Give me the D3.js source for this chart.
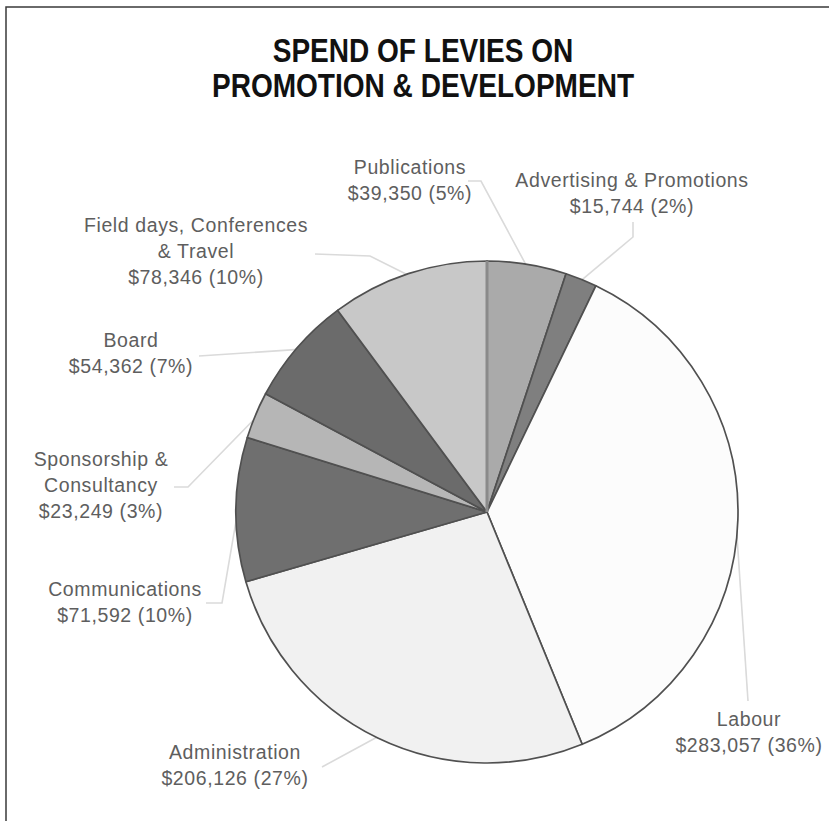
<!DOCTYPE html>
<html>
<head>
<meta charset="utf-8">
<script src="https://cdn.jsdelivr.net/npm/d3@7"></script>
<style>
  html, body { margin: 0; padding: 0; background: #fff; }
  svg { display: block; }
</style>
</head>
<body>
<svg id="chart" width="829" height="821"></svg>
<script>
// Spending categories, clockwise from 12 o'clock
const categories = [
  "Publications",
  "Advertising & Promotions",
  "Labour",
  "Administration",
  "Communications",
  "Sponsorship & Consultancy",
  "Board",
  "Field days, Conferences & Travel"
];
const amounts = [39350, 15744, 283057, 206126, 71592, 23249, 54362, 78346];
const percentLabels = ["5%", "2%", "36%", "27%", "10%", "3%", "7%", "10%"];
// Label text lines (category name split over lines as printed)
const labelLines = [
  ["Publications"],
  ["Advertising & Promotions"],
  ["Labour"],
  ["Administration"],
  ["Communications"],
  ["Sponsorship &", "Consultancy"],
  ["Board"],
  ["Field days, Conferences", "& Travel"]
];
const sliceFills = ["#aaaaaa", "#7f7f7f", "#fcfcfc", "#f1f1f1", "#6f6f6f", "#b6b6b6", "#6b6b6b", "#c8c8c8"];
const titleLines = ["SPEND OF LEVIES ON", "PROMOTION & DEVELOPMENT"];

// Label placement: text centre, first baseline, and leader path bend points
const labelLayout = [
  { x: 410, y: 174, leader: [[468, 181], [481, 181]] },
  { x: 632, y: 187, leader: [[633, 222], [633, 237]] },
  { x: 749, y: 726, leader: [[748, 701]] },
  { x: 235, y: 759, leader: [[322, 767]] },
  { x: 125, y: 596, leader: [[206, 603], [222, 603]] },
  { x: 101, y: 466, leader: [[174, 487], [188, 487]] },
  { x: 131, y: 347, leader: [[199, 356]] },
  { x: 196, y: 232, leader: [[315, 254], [370, 256]] }
];

const width = 829, height = 821;
const cx = 487, cy = 512, radius = 251;
const lineGap = 26;

const svg = d3.select("#chart");

// Frame
svg.append("rect")
  .attr("x", 6).attr("y", 7)
  .attr("width", 900).attr("height", 900)
  .attr("fill", "none")
  .attr("stroke", "#3a3a3a")
  .attr("stroke-width", 1.5);

// Title, condensed horizontally
svg.append("g")
  .attr("transform", "translate(423,0) scale(0.85,1)")
  .selectAll("text")
  .data(titleLines)
  .join("text")
  .attr("x", 0)
  .attr("y", (d, i) => 62 + i * 35)
  .attr("text-anchor", "middle")
  .attr("font-family", "'Liberation Sans', Arial, sans-serif")
  .attr("font-weight", "bold")
  .attr("font-size", 33)
  .attr("fill", "#111")
  .text(d => d);

const data = categories.map((c, i) => ({
  name: c, value: amounts[i], pct: percentLabels[i],
  lines: labelLines[i], fill: sliceFills[i], layout: labelLayout[i]
}));

const pie = d3.pie().sort(null).value(d => d.value);
const arcs = pie(data);
const arc = d3.arc().innerRadius(0).outerRadius(radius);

// Leader lines, drawn below the slices
const fmt = d3.format(",");
const leaderGroup = svg.append("g");

arcs.forEach(a => {
  const mid = (a.startAngle + a.endAngle) / 2;
  const end = [cx + Math.sin(mid) * (radius - 2), cy - Math.cos(mid) * (radius - 2)];
  const pts = a.data.layout.leader.concat([end]);
  leaderGroup.append("path")
    .attr("d", d3.line()(pts))
    .attr("fill", "none")
    .attr("stroke", "#dadada")
    .attr("stroke-width", 1.6);
});

const g = svg.append("g").attr("transform", `translate(${cx},${cy})`);

// Slices
g.selectAll("path")
  .data(arcs)
  .join("path")
  .attr("d", arc)
  .attr("fill", d => d.data.fill)
  .attr("stroke", "#505050")
  .attr("stroke-width", 1.7)
  .attr("stroke-linejoin", "round");

// Soft grey seam at 12 o'clock between first and last slice
g.append("line")
  .attr("x1", 0).attr("y1", 0)
  .attr("x2", 0).attr("y2", -radius)
  .attr("stroke", "#8a8a8a")
  .attr("stroke-width", 3);

// Labels
const labelGroup = svg.append("g")
  .attr("font-family", "'Liberation Sans', Arial, sans-serif")
  .attr("font-size", 19.5)
  .attr("letter-spacing", 0.6)
  .attr("fill", "#5e5e5e")
  .attr("text-anchor", "middle");

arcs.forEach(a => {
  const d = a.data;
  const lines = d.lines.concat([`$${fmt(d.value)} (${d.pct})`]);
  const t = labelGroup.append("text")
    .attr("x", d.layout.x)
    .attr("y", d.layout.y);
  lines.forEach((ln, i) => {
    t.append("tspan")
      .attr("x", d.layout.x)
      .attr("dy", i === 0 ? 0 : lineGap)
      .text(ln);
  });
});
</script>
</body>
</html>
